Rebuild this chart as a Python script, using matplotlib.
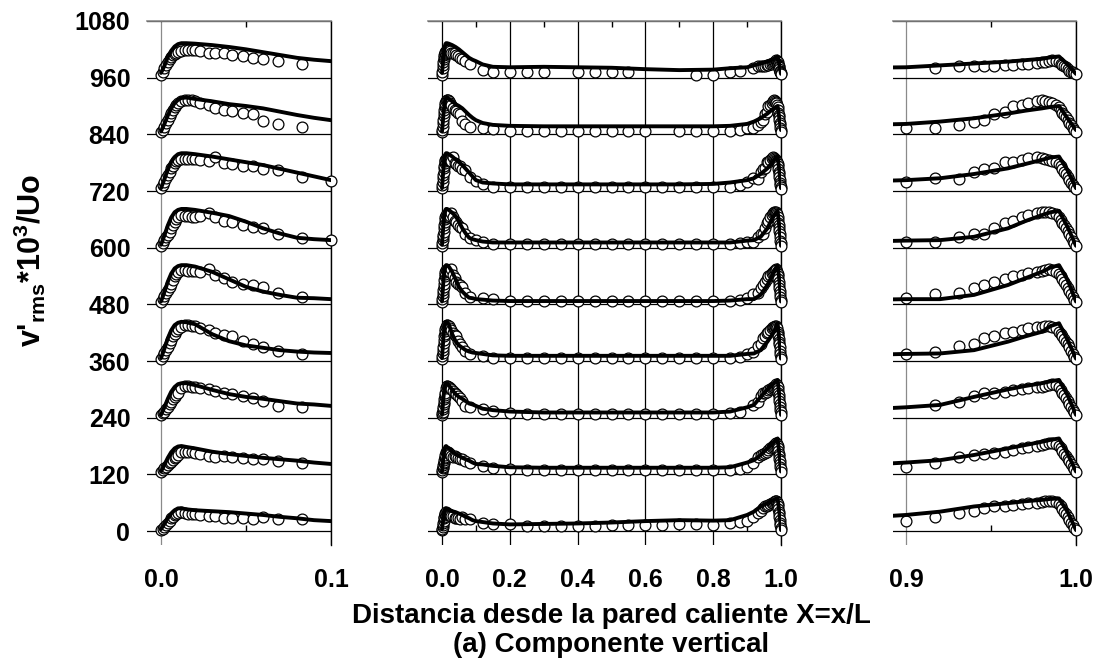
import numpy as np
import matplotlib
matplotlib.use("Agg")
from matplotlib import pyplot as plt

plt.rcParams['font.family'] = 'Liberation Sans'
plt.rcParams['font.weight'] = 'bold'
plt.rcParams['mathtext.fontset'] = 'custom'
plt.rcParams['mathtext.rm'] = 'Liberation Sans:bold'
plt.rcParams['mathtext.bf'] = 'Liberation Sans:bold'
plt.rcParams['mathtext.it'] = 'Liberation Sans:bold'

nan = np.nan

# vertical shift of each stacked profile
offsets = [0, 120, 240, 360, 480, 600, 720, 840, 960]
y_ticks = [0, 120, 240, 360, 480, 600, 720, 840, 960, 1080]

# model curve abscissae
x_model = [0.000, 0.002, 0.004, 0.006, 0.008, 0.010, 0.012, 0.015, 0.020,
           0.030, 0.040, 0.050, 0.060, 0.070, 0.080, 0.090, 0.100, 0.120,
           0.150, 0.200, 0.300, 0.400, 0.500, 0.600, 0.700, 0.800, 0.850,
           0.900, 0.920, 0.940, 0.960, 0.970, 0.980, 0.985, 0.990, 0.995, 1.000]

# measurement stations: hot wall layer, core, cold wall layer
x_hot = [0.000, 0.001, 0.002, 0.003, 0.004, 0.005, 0.006, 0.007, 0.008, 0.009,
         0.010, 0.012, 0.014, 0.016, 0.018, 0.020, 0.023, 0.028, 0.032, 0.037,
         0.042, 0.048, 0.054, 0.060, 0.069, 0.083]
x_core = [0.100, 0.120, 0.150, 0.20, 0.25, 0.30, 0.35, 0.40, 0.45, 0.50,
          0.55, 0.60, 0.65, 0.70, 0.75, 0.80, 0.85, 0.88, 0.90]
x_cold = [0.917, 0.931, 0.940, 0.946, 0.952, 0.958, 0.963, 0.968, 0.972, 0.977,
          0.980, 0.982, 0.984, 0.986, 0.988, 0.990, 0.991, 0.992, 0.993, 0.994,
          0.995, 0.996, 0.997, 0.998, 0.999, 1.000]

# model v'rms*10^3/Uo, one list per height (bottom to top)
mod_0 = [4, 15, 27, 37, 44, 48, 48, 46, 44, 42, 40, 37, 34, 30, 27, 23, 21, 19,
         16, 14, 15, 16, 18, 21, 23, 22, 23, 34, 41, 52, 59, 63, 66, 68, 69, 41, 2]
mod_1 = [6, 20, 35, 47, 55, 59, 60, 58, 55, 48, 43, 39, 35, 32, 29, 25, 22, 21,
         18, 15, 14, 14, 14, 14, 14, 14, 15, 25, 30, 41, 55, 62, 69, 73, 76, 44, 6]
mod_2 = [6, 22, 40, 55, 65, 71, 73, 73, 69, 59, 50, 44, 40, 35, 30, 28, 25, 19,
         16, 13, 11, 11, 11, 11, 11, 11, 13, 22, 27, 44, 60, 67, 73, 77, 80, 48, 6]
mod_3 = [6, 26, 48, 65, 76, 81, 83, 82, 78, 57, 42, 33, 28, 23, 20, 18, 17, 15,
         12, 11, 11, 11, 11, 11, 11, 11, 11, 15, 16, 23, 41, 52, 62, 74, 80, 45, 5]
mod_4 = [6, 26, 48, 65, 76, 81, 83, 83, 80, 69, 53, 37, 27, 20, 14, 13, 11, 10,
         8, 7, 7, 7, 7, 7, 7, 7, 8, 11, 11, 20, 41, 55, 69, 78, 83, 52, 6]
mod_5 = [6, 26, 47, 64, 75, 80, 82, 82, 80, 74, 67, 55, 41, 30, 21, 18, 16, 13,
         11, 11, 11, 11, 11, 11, 11, 11, 11, 15, 16, 23, 41, 56, 69, 75, 78, 44, 4]
mod_6 = [6, 25, 45, 62, 72, 78, 80, 80, 78, 73, 67, 61, 55, 47, 39, 31, 23, 18,
         16, 14, 14, 14, 14, 14, 14, 15, 18, 23, 27, 36, 48, 57, 66, 71, 73, 44, 6]
mod_7 = [6, 22, 40, 55, 66, 73, 77, 78, 75, 70, 64, 60, 55, 48, 41, 35, 30, 24,
         20, 18, 17, 17, 17, 17, 17, 17, 18, 22, 27, 34, 44, 50, 55, 58, 60, 34, 9]
mod_8 = [10, 25, 44, 57, 66, 71, 73, 73, 72, 69, 65, 60, 54, 48, 42, 38, 35, 28,
         23, 22, 23, 22, 21, 18, 16, 17, 20, 22, 26, 30, 34, 37, 40, 43, 45, 28, 8]

# measurements at x_hot + x_core + x_cold
exp_0 = ([2, 5, 9, 13, 18, 22, 27, 30, 34, 37, 39, 41, 39, 37, 35, 36, 34, 32,
          32, 28, 27, 27, 25, 29, 25, 25]
         + [nan, 18, 15, 14, 11, 11, 11, 11, 11, 13, 13, 13, 13, 14, 15, 13, 16, 20, 22]
         + [29, 39, 43, 48, 52, 53, 55, 57, 59, 60, 62, 64, 64, 64, 62, 57, 52, 46,
            40, 35, 29, 23, 18, 12, 6, 2])
exp_1 = ([6, 9, 13, 16, 20, 23, 27, 30, 34, 37, 41, 48, 48, 48, 47, 46, 43, 39,
          37, 39, 37, 34, 32, 32, 29, 25]
         + [nan, 18, 14, 11, 9, 9, 9, 9, 9, 9, 9, 9, 9, 9, 9, 9, 9, 11, 16]
         + [25, 36, 41, 43, 46, 48, 52, 55, 57, 60, 62, 64, 66, 66, 64, 60, 55, 50,
            44, 39, 33, 28, 22, 16, 11, 6])
exp_2 = ([6, 9, 13, 18, 23, 28, 34, 39, 44, 48, 52, 62, 67, 67, 66, 64, 62, 60,
          56, 53, 50, 46, 41, 36, 25, 23]
         + [nan, 18, 15, 9, 8, 8, 8, 8, 8, 8, 8, 8, 8, 8, 8, 8, 9, 13, nan]
         + [27, 34, 46, 52, 53, 55, 59, 60, 62, 64, 66, 67, 69, 71, 69, 64, 59, 53,
            47, 42, 36, 30, 23, 16, 11, 5])
exp_3 = ([4, 10, 16, 23, 30, 38, 45, 52, 58, 63, 67, 73, 76, 76, 75, 74, 70, 66,
          60, 56, 52, 42, 37, 30, 22, 15]
         + [nan, 11, 7, 7, 7, 7, 7, 7, 7, 7, 7, 7, 7, 7, 7, 7, 7, 9, 15]
         + [20, 32, 37, 48, 53, 60, 62, 66, 69, 71, 73, 74, 74, 73, 69, 62, 57, 52,
            46, 40, 35, 29, 22, 15, 9, 4])
exp_4 = ([6, 12, 18, 24, 30, 37, 44, 52, 59, 65, 69, 73, 72, 71, 71, 71, 69, 74,
          62, 55, 48, 44, 40, 36, 23, 16]
         + [nan, 14, 11, 7, 7, 7, 7, 7, 7, 7, 7, 7, 7, 7, 7, 7, 7, 9, 13]
         + [22, 23, 34, 41, 48, 53, 59, 62, 66, 69, 71, 73, 74, 73, 69, 64, 59, 53,
            47, 41, 35, 28, 22, 15, 9, 4])
exp_5 = ([4, 10, 16, 22, 27, 34, 41, 48, 55, 61, 66, 69, 68, 67, 66, 66, 67, 73,
          64, 57, 54, 48, 44, 42, 30, 21]
         + [16, 13, 8, 7, 7, 7, 7, 7, 7, 7, 7, 7, 7, 7, 7, 7, 7, 9, 13]
         + [13, 22, 30, 29, 41, 52, 57, 66, 69, 73, 76, 76, 76, 74, 71, 66, 59, 53,
            47, 41, 35, 28, 22, 15, 9, 4])
exp_6 = ([6, 13, 20, 27, 34, 41, 48, 54, 59, 64, 66, 67, 67, 67, 67, 67, 66, 64,
          73, 60, 57, 53, 52, 47, 44, 30]
         + [21, 14, 9, 8, 8, 8, 8, 8, 8, 8, 8, 8, 8, 8, 8, 8, 9, 13, 20]
         + [28, 25, 41, 46, 48, 61, 62, 66, 69, 73, 69, 67, 66, 64, 62, 57, 52, 46,
            40, 35, 29, 23, 18, 13, 8, 4])
exp_7 = ([4, 10, 16, 23, 30, 38, 45, 52, 57, 62, 66, 71, 73, 73, 72, 71, 66, 62,
          55, 52, 49, 46, 44, 29, 21, 16]
         + [nan, 13, 11, 7, 7, 7, 7, 7, 7, 7, 7, 7, nan, 7, 7, 7, 7, 9, 13]
         + [14, 20, 27, 30, 43, 48, 59, 62, 67, 71, 73, 71, 69, 66, 62, 57, 52, 46,
            41, 36, 30, 25, 20, 14, 9, 6])
exp_8 = ([6, 12, 20, 27, 33, 39, 44, 48, 51, 53, 55, 57, 58, 58, 58, 58, 56, 53,
          53, 52, 49, 45, 42, 40, 36, 30]
         + [nan, 16, 13, 13, 13, 13, nan, 13, 13, 13, 12, nan, nan, nan, 6, 6, 13, 14, nan]
         + [20, 24, 24, 25, 25, 26, 27, 28, 30, 31, 33, 34, 36, 38, 36, 34, 30, 27,
            24, 22, 19, 15, 13, 11, 9, 7])

models = [mod_0, mod_1, mod_2, mod_3, mod_4, mod_5, mod_6, mod_7, mod_8]
measured = [exp_0, exp_1, exp_2, exp_3, exp_4, exp_5, exp_6, exp_7, exp_8]
x_exp = np.array(x_hot + x_core + x_cold)

W, H = 1102, 660
fig = plt.figure(figsize=(W / 100, H / 100), dpi=100)

Y_TOP, Y_BOT = 21, 545
YLIM = (-29.6, 1080)


def panel(left, right, xlim, xticks, labels, minor, edge_grey):
    ax = fig.add_axes([left / W, 1 - Y_BOT / H, (right - left) / W, (Y_BOT - Y_TOP) / H])
    ax.set_xlim(*xlim)
    ax.set_ylim(*YLIM)
    ax.set_yticks(y_ticks)
    ax.set_xticks(xticks)
    ax.set_xticklabels(labels)
    ax.set_xticks(minor, minor=True)
    ax.grid(axis='y', color='black', lw=0.9, zorder=1)
    ax.grid(axis='x', color='black', lw=0.9, zorder=1)
    gl = ax.get_xgridlines()
    if edge_grey:
        gl[0].set_color('#8a8a8a')
    for s in ['left', 'bottom']:
        ax.spines[s].set_visible(False)
    ax.spines['top'].set_color('#8a8a8a')
    ax.spines['top'].set_linewidth(1.2)
    ax.spines['right'].set_color('black')
    ax.spines['right'].set_linewidth(1.0)
    ax.tick_params(axis='both', which='major', length=0, labelsize=18)
    ax.tick_params(axis='x', which='major', pad=16.5)
    ax.tick_params(axis='y', which='major', pad=12)
    ax.tick_params(axis='x', which='minor', top=True, bottom=False,
                   direction='in', length=4.5, width=1, color='black')
    # small inward ticks along the zero line
    sec = ax.secondary_xaxis(-YLIM[0] / (YLIM[1] - YLIM[0]))
    sec.set_xticks(minor)
    sec.set_xticklabels([])
    sec.tick_params(direction='in', length=4.5, width=1, color='black')
    sec.spines['bottom'].set_visible(False)
    ax.set_axisbelow(True)

    lo, hi = xlim
    keep = (x_exp >= lo) & (x_exp <= hi)
    for off, mv, ev in zip(offsets, models, measured):
        ev = np.array(ev, dtype=float)
        ax.plot(x_exp[keep], ev[keep] + off, 'o', ms=7.8, mfc='white', mec='black',
                mew=0.9, clip_on=False, zorder=3)
        ax.plot(x_model, np.array(mv) + off, color='black', lw=2.8, zorder=4,
                solid_joinstyle='round', solid_capstyle='round')
    return ax


ax1 = panel(147, 331, (-0.00824, 0.1), [0.0, 0.1], ['0.0', '0.1'], [0.05], True)
ax2 = panel(428, 781, (-0.0413, 1.0), [0.0, 0.2, 0.4, 0.6, 0.8, 1.0],
            ['0.0', '0.2', '0.4', '0.6', '0.8', '1.0'], [0.1, 0.3, 0.5, 0.7, 0.9], False)
ax3 = panel(893, 1076, (0.89235, 1.0), [0.9, 1.0], ['0.9', '1.0'], [0.95], True)

ax1.set_yticklabels([str(v) for v in y_ticks])
ax2.set_yticklabels([])
ax3.set_yticklabels([])

fig.text(30 / W, 1 - 260 / H, r"v'$_{\mathbf{rms}}$*10$^{\mathbf{3}}$/Uo", rotation=90,
         ha='center', va='center', fontsize=22, fontweight='bold')
fig.text(611 / W, 1 - 623 / H, "Distancia desde la pared caliente X=x/L",
         ha='center', va='baseline', fontsize=20, fontweight='bold')
fig.text(611 / W, 1 - 652 / H, "(a) Componente vertical",
         ha='center', va='baseline', fontsize=20, fontweight='bold')

fig.savefig('out.png', dpi=100)
